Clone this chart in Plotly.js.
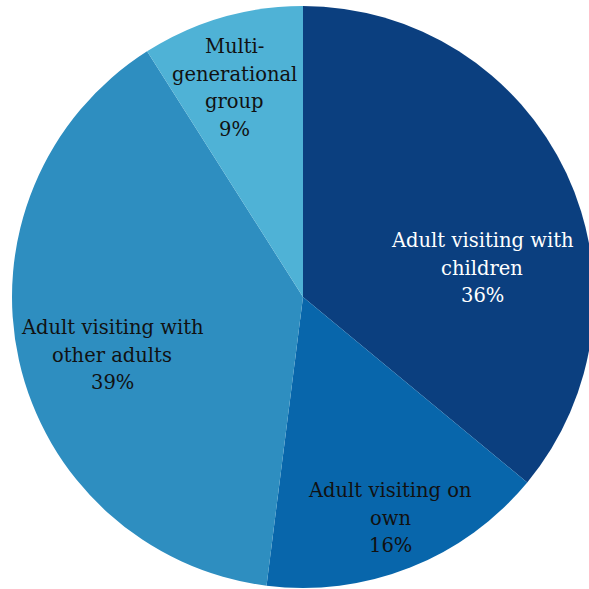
<!DOCTYPE html>
<html><head><meta charset="utf-8">
<script src="https://cdn.plot.ly/plotly-3.0.1.min.js"></script>
<style>html,body{margin:0;padding:0;overflow:hidden;background:#fff}#chart{width:606px;height:589px}</style>
</head><body><div id="chart"></div>
<script>
const categories = ["Adult visiting with children", "Adult visiting on own", "Adult visiting with other adults", "Multi-generational group"];
const labelLines = [["Adult visiting with", "children"], ["Adult visiting on", "own"], ["Adult visiting with", "other adults"], ["Multi-", "generational", "group"]];
const shares = [36, 16, 39, 9];
const sliceColors = ["#0b3f7f", "#0866ab", "#2e8ec0", "#4fb2d6"];
const textColors = ["#ffffff", "#111111", "#111111", "#111111"];

// label block centres in pixels (layout only)
const W = 606, H = 589, MT = 6, MB = 1;
const labelCentres = [[482, 268], [390, 518], [112, 355], [235, 88]];
const lineGap = 27.5;

const annotations = [];
categories.forEach((c, i) => {
  const total = shares.reduce((a, b) => a + b, 0);
  const lines = labelLines[i].concat([Math.round(shares[i] / total * 100) + "%"]);
  const [px, py] = labelCentres[i];
  const n = lines.length;
  lines.forEach((t, k) => {
    annotations.push({
      xref: "paper", yref: "paper",
      x: px / W, y: 1 - (py - MT) / (H - MT - MB),
      xanchor: "center", yanchor: "middle",
      yshift: -((k - (n - 1) / 2) * lineGap),
      text: t, showarrow: false,
      font: {family: "DejaVu Serif, serif", size: 19.5, color: textColors[i]}
    });
  });
});

Plotly.newPlot("chart", [{
  type: "pie",
  labels: categories,
  values: shares,
  textinfo: "none",
  sort: false,
  direction: "clockwise",
  rotation: 0,
  marker: {colors: sliceColors, line: {color: "#ffffff", width: 0}},
  hoverinfo: "none",
  showlegend: false
}], {
  width: W, height: H,
  margin: {l: 0, r: 0, t: MT, b: MB},
  paper_bgcolor: "#ffffff",
  showlegend: false,
  annotations: annotations
}, {staticPlot: true, displayModeBar: false});
</script></body></html>
